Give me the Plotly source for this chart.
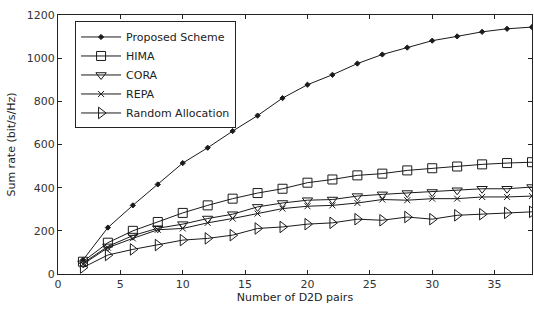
import plotly.graph_objects as go

x_pairs = [2, 4, 6, 8, 10, 12, 14, 16, 18, 20, 22, 24, 26, 28, 30, 32, 34, 36, 38]
proposed = [65, 215, 318, 415, 514, 585, 662, 734, 815, 877, 923, 975, 1017, 1049, 1081, 1101, 1122, 1136, 1144]
hima = [57, 145, 200, 241, 283, 318, 349, 375, 395, 423, 438, 457, 465, 480, 490, 498, 508, 514, 518]
cora = [50, 128, 178, 212, 231, 257, 277, 311, 329, 342, 345, 361, 369, 375, 380, 388, 395, 395, 403]
repa = [45, 122, 165, 205, 211, 237, 257, 280, 303, 314, 318, 329, 345, 342, 349, 349, 357, 357, 361]
random_alloc = [30, 88, 114, 134, 157, 165, 180, 211, 218, 231, 237, 254, 249, 264, 254, 272, 277, 283, 288]

series = [
    ("Proposed Scheme", proposed, "diamond", 4),
    ("HIMA", hima, "square-open", 9),
    ("CORA", cora, "triangle-down-open", 9),
    ("REPA", repa, "x-thin-open", 6),
    ("Random Allocation", random_alloc, "triangle-right-open", 10),
]

FONT = "DejaVu Sans, Liberation Sans, Arial"

fig = go.Figure()
for name, ys, sym, sz in series:
    fig.add_trace(go.Scatter(
        x=x_pairs, y=ys, name=name, mode="lines+markers",
        line=dict(color="#1a1a1a", width=1),
        marker=dict(symbol=sym, size=sz, color="#1a1a1a",
                    line=dict(color="#1a1a1a", width=1)),
    ))

axis_common = dict(
    showgrid=False, zeroline=False, showline=True, linecolor="#222", linewidth=1,
    mirror="ticks", ticks="inside", ticklen=4, tickcolor="#222", automargin=False,
    tickfont=dict(family=FONT, size=11, color="#333"),
)

fig.update_layout(
    width=534, height=310,
    margin=dict(l=58, r=2, t=15, b=36, autoexpand=False),
    paper_bgcolor="white", plot_bgcolor="white",
    font=dict(family=FONT, size=11, color="#222"),
    xaxis=dict(range=[0, 38], tickvals=[0, 5, 10, 15, 20, 25, 30, 35],
               title=dict(text="Number of D2D pairs", standoff=2,
                          font=dict(size=11)), **axis_common),
    yaxis=dict(range=[0, 1200], tickvals=[0, 200, 400, 600, 800, 1000, 1200],
               title=dict(text="Sum rate (bit/s/Hz)", standoff=8,
                          font=dict(size=11)), **axis_common),
    legend=dict(x=0.036, y=0.975, xanchor="left", yanchor="top",
                bgcolor="white", bordercolor="#222", borderwidth=1,
                font=dict(size=11), tracegroupgap=0, itemwidth=40),
    showlegend=True,
)

fig.write_html("out.html", config={"displayModeBar": False},
               post_script="document.body.style.margin='0px';")
